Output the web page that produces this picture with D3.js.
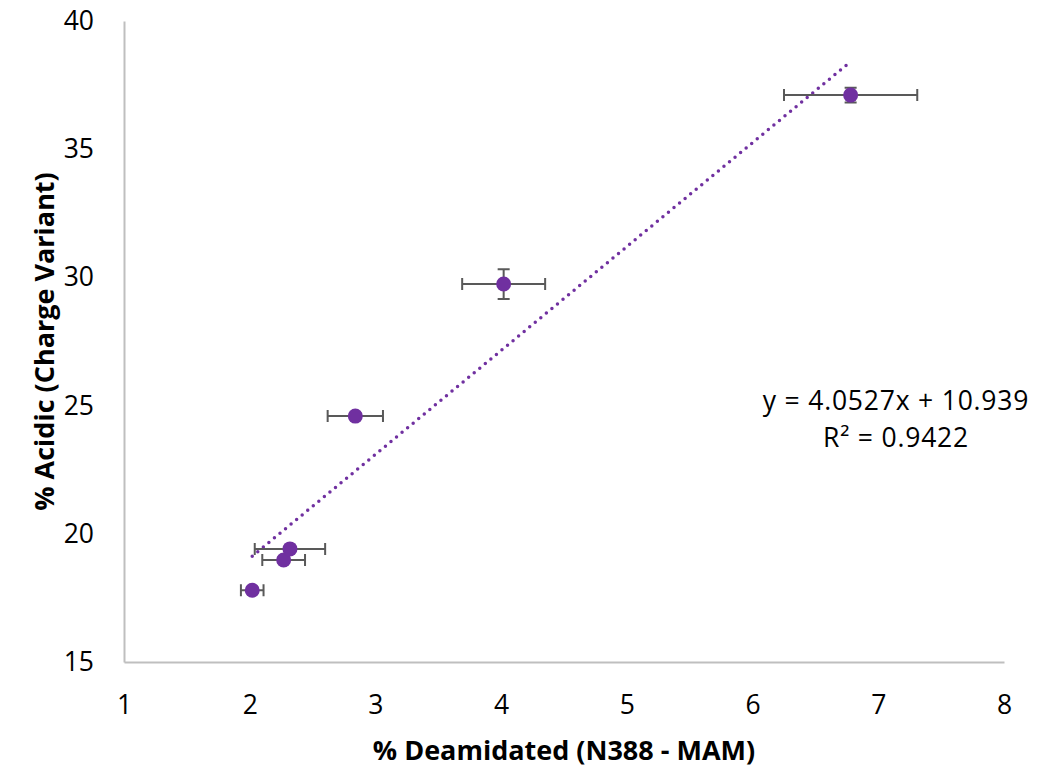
<!DOCTYPE html>
<html>
<head>
<meta charset="utf-8">
<script src="https://cdn.jsdelivr.net/npm/d3@7"></script>
<style>
  body { margin: 0; background: #fff; }
  text { font-family: "Open Sans", "Noto Sans", sans-serif; fill: #000; }
</style>
</head>
<body>
<div></div>
<script>
// data
const deamidated = [2.02, 2.27, 2.32, 2.84, 4.02, 6.78];
const acidic = [17.8, 18.98, 19.41, 24.59, 29.74, 37.11];
const deamidatedErr = [0.09, 0.17, 0.28, 0.22, 0.33, 0.53];
const acidicErr = [0.12, 0.12, 0.12, 0.12, 0.58, 0.29];
const xTicks = [1, 2, 3, 4, 5, 6, 7, 8];
const yTicks = [15, 20, 25, 30, 35, 40];
const slope = 4.0527, intercept = 10.939, rSquared = 0.9422;

const purple = "#7030a0";
const errColor = "#595959";

const W = 1053, H = 769;
const svg = d3.select("body div")
    .append("svg")
    .attr("width", W)
    .attr("height", H);

const x = d3.scaleLinear().domain([1, 8]).range([124, 1004]);
const y = d3.scaleLinear().domain([15, 40]).range([662, 21]);

const points = deamidated.map((d, i) => ({ x: d, y: acidic[i], ex: deamidatedErr[i], ey: acidicErr[i] }));

// axes (lines only, no tick marks)
const xAxis = svg.append("g")
    .attr("transform", `translate(0,${y(15)})`)
    .call(d3.axisBottom(x).tickValues(xTicks).tickFormat(d3.format("d")).tickSize(0).tickPadding(0));
xAxis.select(".domain").attr("stroke", "#bfbfbf").attr("stroke-width", 2);
xAxis.selectAll("text")
    .attr("y", 52)
    .attr("dy", null)
    .style("font-size", "26.5px");

const yAxis = svg.append("g")
    .attr("transform", `translate(${x(1)},0)`)
    .call(d3.axisLeft(y).tickValues(yTicks).tickSize(0).tickPadding(0));
yAxis.select(".domain").attr("stroke", "#bfbfbf").attr("stroke-width", 2);
yAxis.selectAll("text")
    .attr("x", -30)
    .style("font-size", "26.5px");

// axis titles
svg.append("text")
    .attr("x", (x(1) + x(8)) / 2)
    .attr("y", 760)
    .attr("text-anchor", "middle")
    .style("font-size", "27px")
    .style("font-weight", "bold")
    .text("% Deamidated (N388 - MAM)");

svg.append("text")
    .attr("transform", `translate(54,${(y(15) + y(40)) / 2}) rotate(-90)`)
    .attr("text-anchor", "middle")
    .style("font-size", "27px")
    .style("font-weight", "bold")
    .text("% Acidic (Charge Variant)");

// trendline
const xs = d3.extent(deamidated);
svg.append("path")
    .datum(xs.map(v => [v, slope * v + intercept]))
    .attr("d", d3.line().x(d => x(d[0])).y(d => y(d[1])))
    .attr("fill", "none")
    .attr("stroke", purple)
    .attr("stroke-width", 3.5)
    .attr("stroke-linecap", "round")
    .attr("stroke-dasharray", "0 7.2");

// error bars
const cap = 6;
const eb = svg.append("g")
    .attr("stroke", errColor)
    .attr("stroke-width", 2)
    .attr("fill", "none");
points.forEach(p => {
    const cx = x(p.x), cy = y(p.y);
    const x0 = x(p.x - p.ex), x1 = x(p.x + p.ex);
    const y0 = y(p.y - p.ey), y1 = y(p.y + p.ey);
    eb.append("path").attr("d",
        `M${x0},${cy}H${x1}M${x0},${cy - cap}V${cy + cap}M${x1},${cy - cap}V${cy + cap}` +
        `M${cx},${y0}V${y1}M${cx - cap},${y0}H${cx + cap}M${cx - cap},${y1}H${cx + cap}`);
});

// markers
svg.append("g")
    .selectAll("circle")
    .data(points)
    .join("circle")
    .attr("cx", d => x(d.x))
    .attr("cy", d => y(d.y))
    .attr("r", 7.5)
    .attr("fill", purple);

// equation label
const eq = svg.append("text")
    .attr("text-anchor", "middle")
    .style("font-size", "26.5px")
    .style("letter-spacing", "0.8px");
eq.append("tspan").attr("x", 896).attr("y", 410)
    .text(`y = ${slope}x + ${intercept}`);
eq.append("tspan").attr("x", 896).attr("y", 447)
    .text(`R² = ${rSquared}`);
</script>
</body>
</html>
